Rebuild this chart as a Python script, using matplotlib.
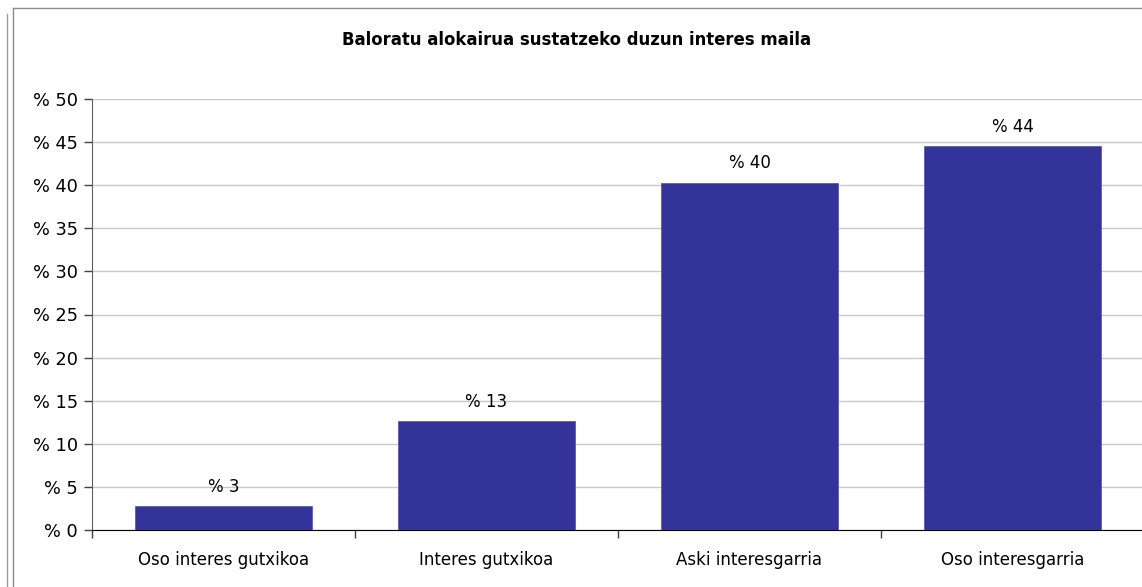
import matplotlib.pyplot as plt
from matplotlib.lines import Line2D

categories = ["Oso interes gutxikoa", "Interes gutxikoa", "Aski interesgarria", "Oso interesgarria"]
values = [2.8, 12.6, 40.3, 44.5]
bar_labels = ["% 3", "% 13", "% 40", "% 44"]
yticks = [0, 5, 10, 15, 20, 25, 30, 35, 40, 45, 50]
ytick_labels = ["% " + str(t) for t in yticks]

W, H = 1142, 587
fig = plt.figure(figsize=(W / 100, H / 100), dpi=100)
plt.rcParams["font.family"] = "DejaVu Sans"

# outer frames
fig.add_artist(Line2D([6.5 / W, 6.5 / W], [0, 1 - 14 / H], color="#9a9a9a", lw=1))
fig.add_artist(Line2D([12.5 / W, 12.5 / W], [0, 1 - 8 / H], color="#8c8c8c", lw=1))
fig.add_artist(Line2D([12.5 / W, 1], [1 - 8 / H, 1 - 8 / H], color="#8c8c8c", lw=1))

ax = fig.add_axes([92 / W, (H - 530) / H, (1144 - 92) / W, 431 / H])
x = range(len(categories))
ax.bar(x, values, width=0.67, color="#333399", edgecolor="#5c5cb0", linewidth=0.6, zorder=3)
for xi, v, lab in zip(x, values, bar_labels):
    ax.text(xi, v + 1.2, lab, ha="center", va="bottom", fontsize=12)

ax.set_xlim(-0.5, 3.5)
ax.set_ylim(0, 50)
ax.set_yticks(yticks)
ax.set_yticklabels(ytick_labels, fontsize=12.8)
ax.set_xticks(list(x))
ax.set_xticklabels(categories, fontsize=12)
ax.tick_params(axis="x", length=0, pad=15)
ax.set_xticks([-0.5, 0.5, 1.5, 2.5, 3.5], minor=True)
ax.tick_params(axis="x", which="minor", length=6, color="#404040", width=1)
ax.tick_params(axis="y", length=6, color="#404040", width=1, pad=4)
ax.yaxis.grid(True, color="#c8c8c8", lw=1, zorder=0)
ax.set_axisbelow(True)
for s in ["top", "right"]:
    ax.spines[s].set_visible(False)
ax.spines["left"].set_color("#606060")
ax.spines["bottom"].set_color("black")

fig.text(577 / W, 1 - 40 / H, "Baloratu alokairua sustatzeko duzun interes maila",
         ha="center", va="center", fontsize=11.9, fontweight="bold")

fig.savefig("out.png", dpi=100)
